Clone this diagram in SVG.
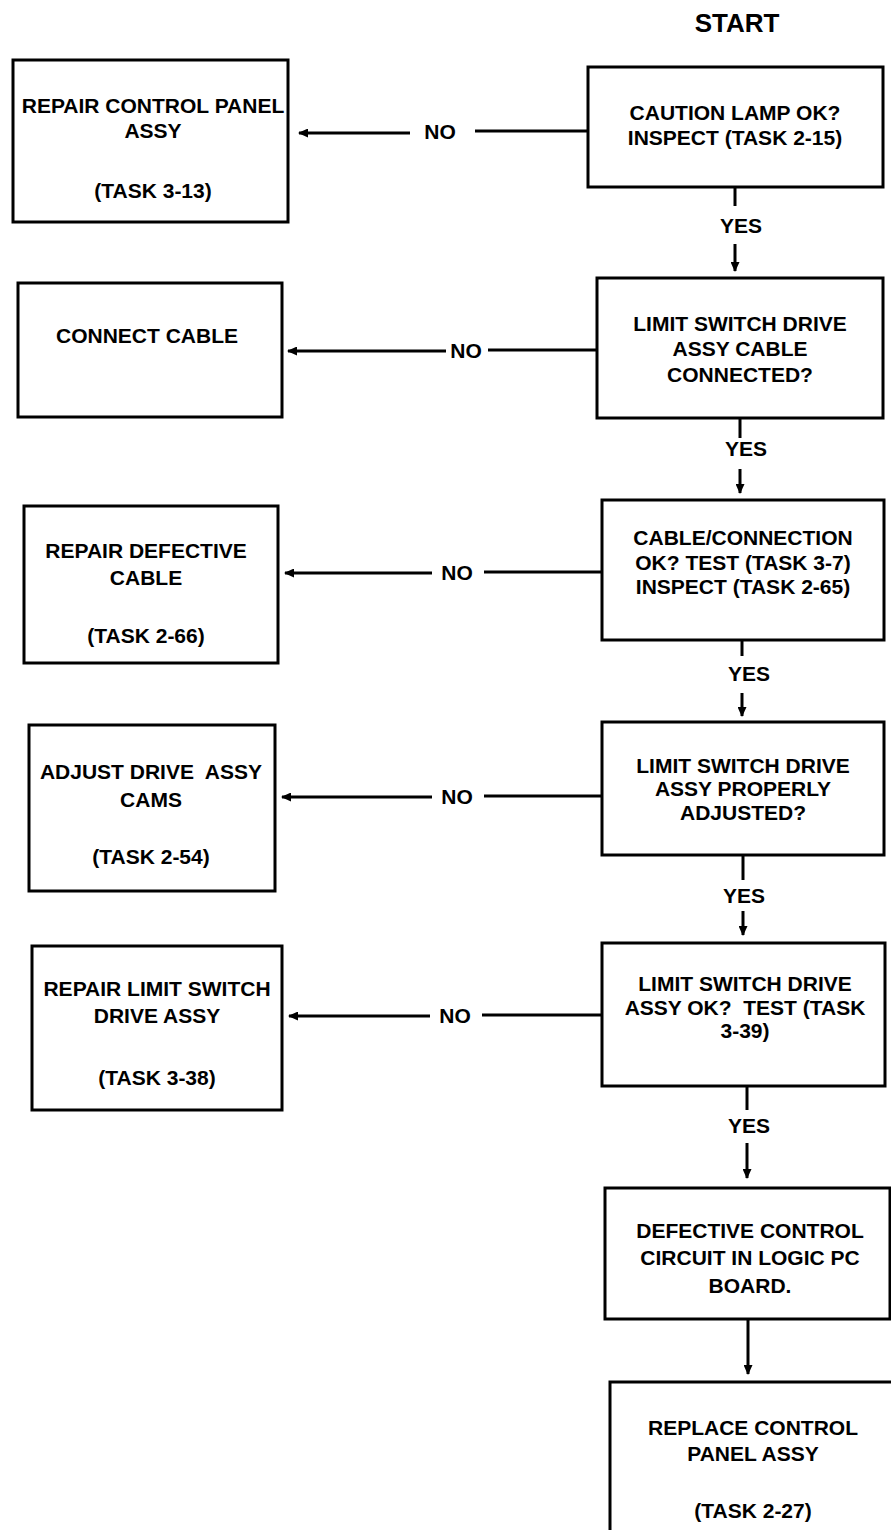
<svg xmlns="http://www.w3.org/2000/svg" width="891" height="1530" viewBox="0 0 891 1530">
<style>
.box{fill:#fff;stroke:#000;stroke-width:3}
.t{font-family:"Liberation Sans",Arial,Helvetica,sans-serif;font-size:21px;font-weight:bold;fill:#000;text-anchor:middle}
.title{font-size:26px}
.ln{fill:none;stroke:#000;stroke-width:3}
.ar{fill:none;stroke:#000;stroke-width:3;marker-end:url(#ah)}
</style>
<defs>
<marker id="ah" markerUnits="userSpaceOnUse" markerWidth="10" markerHeight="9" refX="9" refY="4.5" orient="auto">
<path d="M0,0 L10,4.5 L0,9 z" fill="#000"/>
</marker>
</defs>
<rect width="891" height="1530" fill="#fff"/>
<text class="t title" x="737" y="32">START</text>

<g id="connectors">
<line class="ln" x1="735" y1="187" x2="735" y2="206"/>
<text class="t" x="741" y="233">YES</text>
<line class="ar" x1="735" y1="244" x2="735" y2="271"/>
<line class="ln" x1="740" y1="418" x2="740" y2="438"/>
<text class="t" x="746" y="456">YES</text>
<line class="ar" x1="740" y1="469" x2="740" y2="493"/>
<line class="ln" x1="742" y1="640" x2="742" y2="656"/>
<text class="t" x="749" y="681">YES</text>
<line class="ar" x1="742" y1="693" x2="742" y2="716"/>
<line class="ln" x1="743" y1="855" x2="743" y2="880"/>
<text class="t" x="744" y="903">YES</text>
<line class="ar" x1="743" y1="911" x2="743" y2="935"/>
<line class="ln" x1="747" y1="1086" x2="747" y2="1110"/>
<text class="t" x="749" y="1133">YES</text>
<line class="ar" x1="747" y1="1143" x2="747" y2="1178"/>
<line class="ar" x1="748" y1="1319" x2="748" y2="1374"/>

<line class="ln" x1="588" y1="131" x2="475" y2="131"/>
<text class="t" x="440" y="139">NO</text>
<line class="ar" x1="410" y1="133" x2="299" y2="133"/>
<line class="ln" x1="597" y1="350" x2="488" y2="350"/>
<text class="t" x="466" y="358">NO</text>
<line class="ar" x1="446" y1="351" x2="288" y2="351"/>
<line class="ln" x1="602" y1="572" x2="484" y2="572"/>
<text class="t" x="457" y="580">NO</text>
<line class="ar" x1="432" y1="573" x2="285" y2="573"/>
<line class="ln" x1="602" y1="796" x2="484" y2="796"/>
<text class="t" x="457" y="804">NO</text>
<line class="ar" x1="432" y1="797" x2="282" y2="797"/>
<line class="ln" x1="602" y1="1015" x2="482" y2="1015"/>
<text class="t" x="455" y="1023">NO</text>
<line class="ar" x1="430" y1="1016" x2="289" y2="1016"/>
</g>

<g id="n1">
<rect class="box" x="588" y="67" width="295" height="120"/>
<text class="t" x="735" y="120">CAUTION LAMP OK?</text>
<text class="t" x="735" y="145">INSPECT (TASK 2-15)</text>
</g>
<g id="n2">
<rect class="box" x="597" y="278" width="286" height="140"/>
<text class="t" x="740" y="331">LIMIT SWITCH DRIVE</text>
<text class="t" x="740" y="356">ASSY CABLE</text>
<text class="t" x="740" y="382">CONNECTED?</text>
</g>
<g id="n3">
<rect class="box" x="602" y="500" width="282" height="140"/>
<text class="t" x="743" y="545">CABLE/CONNECTION</text>
<text class="t" x="743" y="570">OK? TEST (TASK 3-7)</text>
<text class="t" x="743" y="594">INSPECT (TASK 2-65)</text>
</g>
<g id="n4">
<rect class="box" x="602" y="722" width="282" height="133"/>
<text class="t" x="743" y="773">LIMIT SWITCH DRIVE</text>
<text class="t" x="743" y="796">ASSY PROPERLY</text>
<text class="t" x="743" y="820">ADJUSTED?</text>
</g>
<g id="n5">
<rect class="box" x="602" y="943" width="283" height="143"/>
<text class="t" x="745" y="991">LIMIT SWITCH DRIVE</text>
<text class="t" x="745" y="1015" xml:space="preserve">ASSY OK?  TEST (TASK</text>
<text class="t" x="745" y="1038">3-39)</text>
</g>
<g id="n6">
<rect class="box" x="605" y="1188" width="285" height="131"/>
<text class="t" x="750" y="1238">DEFECTIVE CONTROL</text>
<text class="t" x="750" y="1265">CIRCUIT IN LOGIC PC</text>
<text class="t" x="750" y="1293">BOARD.</text>
</g>
<g id="n7">
<rect class="box" x="610" y="1382" width="300" height="170"/>
<text class="t" x="753" y="1435">REPLACE CONTROL</text>
<text class="t" x="753" y="1461">PANEL ASSY</text>
<text class="t" x="753" y="1518">(TASK 2-27)</text>
</g>

<g id="l1">
<rect class="box" x="13" y="60" width="275" height="162"/>
<text class="t" x="153" y="113">REPAIR CONTROL PANEL</text>
<text class="t" x="153" y="138">ASSY</text>
<text class="t" x="153" y="198">(TASK 3-13)</text>
</g>
<g id="l2">
<rect class="box" x="18" y="283" width="264" height="134"/>
<text class="t" x="147" y="343">CONNECT CABLE</text>
</g>
<g id="l3">
<rect class="box" x="24" y="506" width="254" height="157"/>
<text class="t" x="146" y="558">REPAIR DEFECTIVE</text>
<text class="t" x="146" y="585">CABLE</text>
<text class="t" x="146" y="643">(TASK 2-66)</text>
</g>
<g id="l4">
<rect class="box" x="29" y="725" width="246" height="166"/>
<text class="t" x="151" y="779" xml:space="preserve">ADJUST DRIVE  ASSY</text>
<text class="t" x="151" y="807">CAMS</text>
<text class="t" x="151" y="864">(TASK 2-54)</text>
</g>
<g id="l5">
<rect class="box" x="32" y="946" width="250" height="164"/>
<text class="t" x="157" y="996">REPAIR LIMIT SWITCH</text>
<text class="t" x="157" y="1023">DRIVE ASSY</text>
<text class="t" x="157" y="1085">(TASK 3-38)</text>
</g>
</svg>
